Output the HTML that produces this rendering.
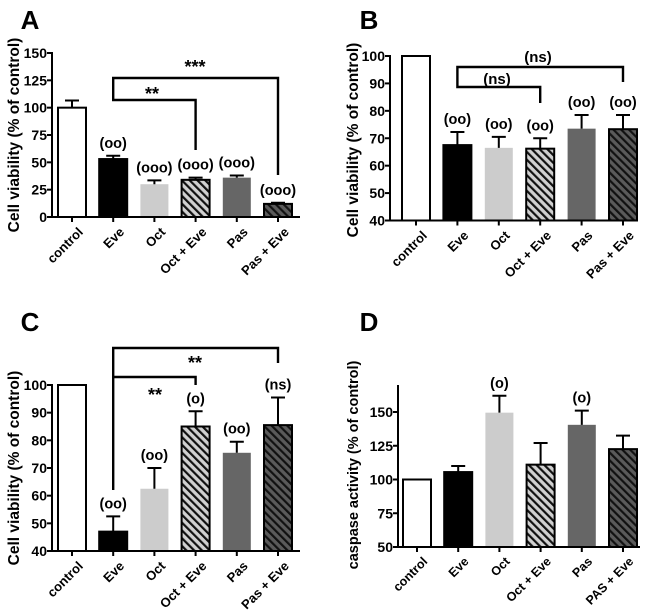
<!DOCTYPE html>
<html><head><meta charset="utf-8"><style>
body{margin:0;background:#fff;}
svg{display:block;font-family:"Liberation Sans",Arial,sans-serif;font-weight:bold;}
</style></head><body>
<svg id="fig" width="650" height="611" viewBox="0 0 650 611" xmlns="http://www.w3.org/2000/svg">
<defs>
<pattern id="hatchL" patternUnits="userSpaceOnUse" width="5.5" height="5.5" patternTransform="rotate(-45)"><rect width="5.5" height="5.5" fill="#d0d0d0"/><rect width="2.2" height="5.5" fill="#111"/></pattern>
<pattern id="hatchD" patternUnits="userSpaceOnUse" width="5.5" height="5.5" patternTransform="rotate(-45)"><rect width="5.5" height="5.5" fill="#5a5a5a"/><rect width="2.2" height="5.5" fill="#111"/></pattern>
</defs>
</svg>
<script>
const categoriesABC = ["control","Eve","Oct","Oct + Eve","Pas","Pas + Eve"];
const categoriesD = ["control","Eve","Oct","Oct + Eve","Pas","PAS + Eve"];
const valuesA = [100,53,30,34,36,12];
const errorsA = [106.5,56,33.5,36,38,13];
const marksA = ["","(oo)","(ooo)","(ooo)","(ooo)","(ooo)"];
const ticksA = [0,25,50,75,100,125,150];
const valuesB = [100,67.5,66.5,66.2,73.5,73.3];
const errorsB = [100,72.3,70.5,70,78.5,78.5];
const marksB = ["","(oo)","(oo)","(oo)","(oo)","(oo)"];
const ticksB = [40,50,60,70,80,90,100];
const valuesC = [100,47,62.5,85,75.5,85.5];
const errorsC = [100,52.5,70,90.5,79.5,95.5];
const marksC = ["","(oo)","(oo)","(o)","(oo)","(ns)"];
const ticksC = [40,50,60,70,80,90,100];
const valuesD = [100,105.5,149.5,111,140.5,122.5];
const errorsD = [100,110,162,127,151,132.5];
const marksD = ["","","(o)","","(o)",""];
const ticksD = [50,75,100,125,150];

const fills=["#fff","#000","#cccccc","url(#hatchL)","#666","url(#hatchD)"];
const borders=[true,true,false,true,false,true];
const NS="http://www.w3.org/2000/svg";
const svg=document.getElementById('fig');
function mk(tag,attrs,parent,text){const e=document.createElementNS(NS,tag);for(const k in attrs)e.setAttribute(k,attrs[k]);if(text!==undefined)e.textContent=text;(parent||svg).appendChild(e);return e;}

function panel(p){
  const g=mk('g',{});
  
  
  const y=v=>p.y0+(v-p.vmin)/(p.vmax-p.vmin)*(p.y1-p.y0);
  const x=i=>p.cx0+i*p.step;
  const lt=mk('text',{x:p.lx,y:p.ly,'font-size':26,'text-anchor':'middle'},g,p.id);
  
  
  const bw=28;
  p.values.forEach((v,i)=>{
    const top=y(v), base=y(p.vmin);
    const r=mk('rect',{x:x(i)-bw/2,y:top,width:bw,height:base-top,fill:fills[i],stroke:borders[i]?'#000':'none','stroke-width':2},g);
    
    
    if(p.errors[i]>v){
      const ey=y(p.errors[i]);
      const e=mk('path',{d:`M${x(i)} ${top}V${ey}M${x(i)-7} ${ey}H${x(i)+7}`,stroke:'#000','stroke-width':2,fill:'none'},g);
      
      
    }
    if(p.marks[i]){
      const m=mk('text',{x:x(i),y:y(p.errors[i])-8,'font-size':14.5,'text-anchor':'middle'},g,p.marks[i]);
      
      
    }
    const lb=mk('text',{transform:`translate(${x(i)+5},${p.y0+9}) rotate(-45)`,'font-size':p.xfs,'text-anchor':'end','dominant-baseline':'hanging'},g,p.cats[i]);
    
    
    mk('line',{x1:x(i),x2:x(i),y1:p.y0,y2:p.y0+5,stroke:'#000','stroke-width':2},g);
  });
  const ax=mk('path',{d:`M${p.ax} ${p.axTop}V${p.y0}H${p.axR}`,stroke:'#000','stroke-width':2,fill:'none'},g);
  
  
  p.ticks.forEach(t=>{
    mk('line',{x1:p.ax-5,x2:p.ax,y1:y(t),y2:y(t),stroke:'#000','stroke-width':2},g);
    const tl=mk('text',{x:p.ax-5,y:y(t)+5,'font-size':p.tfs,'text-anchor':'end'},g,t);
    
    
  });
  const yt=mk('text',{transform:`translate(${p.ytx},${p.yty}) rotate(-90)`,'font-size':p.yfs,'text-anchor':'middle'},g,p.ytitle);
  
  
  (p.brackets||[]).forEach(b=>{
    const br=mk('path',{d:`M${x(b.a)} ${b.l}V${b.t}H${x(b.b)}V${b.r}`,stroke:'#000','stroke-width':2.4,fill:'none'},g);
    
    
    const bl=mk('text',{x:b.tx,y:b.ty,'font-size':b.fs||15,'text-anchor':'middle'},g,b.label);
    
    
  });
}
panel({id:'A',values:valuesA,errors:errorsA,marks:marksA,ticks:ticksA,cats:categoriesABC,vmin:0,vmax:150,y0:217,y1:53,axTop:52,ax:52,axR:300,cx0:72,step:41.2,
  lx:30,ly:29,tfs:14,xfs:13,yfs:15.5,ytx:19,yty:135,ytitle:'Cell viability (% of control)',
  brackets:[{a:1,b:5,t:78,l:98,r:175,label:'***',tx:195,ty:73,fs:18},{a:1,b:3,t:100,l:98,r:150,label:'**',tx:152,ty:100,fs:18}]});
panel({id:'B',values:valuesB,errors:errorsB,marks:marksB,ticks:ticksB,cats:categoriesABC,vmin:40,vmax:100,y0:220.5,y1:56,axTop:55,ax:390,axR:637,cx0:416,step:41.4,
  lx:369,ly:29,tfs:14,xfs:13,yfs:15.5,ytx:358,yty:140,ytitle:'Cell viability (% of control)',
  brackets:[{a:1,b:5,t:67,l:82,r:82,label:'(ns)',tx:538,ty:62},{a:1,b:3,t:87,l:82,r:103,label:'(ns)',tx:497,ty:84}]});
panel({id:'C',values:valuesC,errors:errorsC,marks:marksC,ticks:ticksC,cats:categoriesABC,vmin:40,vmax:100,y0:551,y1:385,axTop:384,ax:52,axR:300,cx0:72,step:41.2,
  lx:30,ly:331,tfs:14,xfs:13,yfs:15.5,ytx:19,yty:468,ytitle:'Cell viability (% of control)',
  brackets:[{a:1,b:5,t:348,l:490,r:363,label:'**',tx:195,ty:369,fs:18},{a:1,b:3,t:377,l:377,r:385,label:'**',tx:155,ty:401,fs:18}]});
panel({id:'D',values:valuesD,errors:errorsD,marks:marksD,ticks:ticksD,cats:categoriesD,vmin:50,vmax:150,y0:547,y1:412,axTop:385,ax:398,axR:640,cx0:417,step:41.2,
  lx:369,ly:331,tfs:14,xfs:12.5,yfs:14.5,ytx:358,yty:465,ytitle:'caspase activity (% of control)'});
</script>
</body></html>
